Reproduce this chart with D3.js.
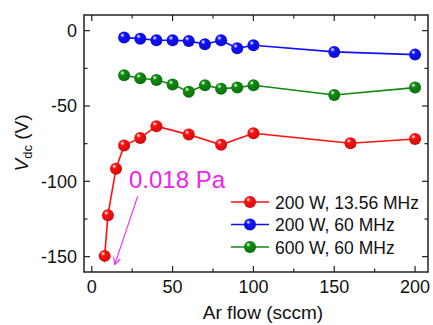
<!DOCTYPE html>
<html><head><meta charset="utf-8">
<script src="https://cdn.jsdelivr.net/npm/d3@7"></script>
<style>
html,body{margin:0;padding:0;background:#fff;}
text{font-family:Arial,"Liberation Sans",sans-serif;}
</style></head>
<body>
<svg id="c" width="433" height="325"></svg>
<script>
// Data
const seriesNames = ["200 W, 13.56 MHz", "200 W, 60 MHz", "600 W, 60 MHz"];
const seriesColors = ["#ff1010", "#1010ff", "#108a10"];
const redX = [8, 10, 15, 20, 30, 40, 60, 80, 100, 160, 200];
const redY = [-149.5, -122.5, -91.6, -76.3, -71.2, -63.4, -69, -75.8, -68.1, -74.7, -71.9];
const blueX = [20, 30, 40, 50, 60, 70, 80, 90, 100, 150, 200];
const blueY = [-4.6, -5.3, -6.4, -6.4, -6.8, -9, -6.4, -11.7, -9.7, -14.1, -15.9];
const greenX = [20, 30, 40, 50, 60, 70, 80, 90, 100, 150, 200];
const greenY = [-29.6, -31.6, -32.7, -35.8, -40.5, -36.2, -38.5, -37.8, -36.2, -42.7, -37.8];
const xTicks = [0, 50, 100, 150, 200];
const yTicks = [0, -50, -100, -150];
const annotationText = "0.018 Pa";

const series = [
  {name: seriesNames[0], color: seriesColors[0], pts: redX.map((x,i)=>[x, redY[i]])},
  {name: seriesNames[1], color: seriesColors[1], pts: blueX.map((x,i)=>[x, blueY[i]])},
  {name: seriesNames[2], color: seriesColors[2], pts: greenX.map((x,i)=>[x, greenY[i]])}
];

const svg = d3.select("#c");
const L = 84, R = 428, T = 15, B = 272;
const x = d3.scaleLinear().domain([-4.8, 208]).range([L, R]);
const y = d3.scaleLinear().domain([-160.2, 10.4]).range([B, T]);

// gradients
const defs = svg.append("defs");
series.forEach((s, i) => {
  const g = defs.append("radialGradient").attr("id", "g" + i)
    .attr("cx", "40%").attr("cy", "35%").attr("r", "65%").attr("fx", "35%").attr("fy", "30%");
  g.append("stop").attr("offset", "0%").attr("stop-color", "#ffffff");
  g.append("stop").attr("offset", "30%").attr("stop-color", s.color);
  g.append("stop").attr("offset", "100%").attr("stop-color", d3.color(s.color).darker(0.6));
});
defs.append("marker").attr("id", "arr").attr("viewBox", "0 0 10 10")
  .attr("refX", 9).attr("refY", 5).attr("markerWidth", 9).attr("markerHeight", 9)
  .attr("orient", "auto").attr("markerUnits", "userSpaceOnUse")
  .append("path").attr("d", "M1,1 L9,5 L1,9").attr("fill", "none")
  .attr("stroke", "#ee22ee").attr("stroke-width", 1.2);

// axes (ticks inward)
const fs = 18;
const xMinor = d3.range(0, 201, 25);
const yMinor = d3.range(-150, 1, 25);
function tickLines(group, vals, pos, len, orient) {
  vals.forEach(v => {
    if (orient === "b") group.append("line").attr("x1", x(v)).attr("x2", x(v)).attr("y1", B).attr("y2", B - len);
    if (orient === "t") group.append("line").attr("x1", x(v)).attr("x2", x(v)).attr("y1", T).attr("y2", T + len);
    if (orient === "l") group.append("line").attr("y1", y(v)).attr("y2", y(v)).attr("x1", L).attr("x2", L + len);
    if (orient === "r") group.append("line").attr("y1", y(v)).attr("y2", y(v)).attr("x1", R).attr("x2", R - len);
  });
}
const tg = svg.append("g").attr("stroke", "#222").attr("stroke-width", 1.2);
tickLines(tg, xTicks, 0, 6, "b"); tickLines(tg, xMinor.filter(v=>!xTicks.includes(v)), 0, 3.5, "b");
tickLines(tg, xTicks, 0, 6, "t"); tickLines(tg, xMinor.filter(v=>!xTicks.includes(v)), 0, 3.5, "t");
tickLines(tg, yTicks, 0, 6, "l"); tickLines(tg, yMinor.filter(v=>!yTicks.includes(v)), 0, 3.5, "l");
tickLines(tg, yTicks, 0, 6, "r"); tickLines(tg, yMinor.filter(v=>!yTicks.includes(v)), 0, 3.5, "r");

svg.append("rect").attr("x", L).attr("y", T).attr("width", R - L).attr("height", B - T)
  .attr("fill", "none").attr("stroke", "#222").attr("stroke-width", 1.5);

svg.append("g").selectAll("text").data(xTicks).join("text")
  .attr("x", d => x(d)).attr("y", 293).attr("text-anchor", "middle")
  .attr("font-size", fs).attr("fill", "#111").text(d => d);
svg.append("g").selectAll("text").data(yTicks).join("text")
  .attr("x", 77).attr("y", d => y(d) + 6.5).attr("text-anchor", "end")
  .attr("font-size", fs).attr("fill", "#111").text(d => d === 0 ? "0" : "-" + Math.abs(d));

// titles
svg.append("text").attr("x", 263).attr("y", 319).attr("text-anchor", "middle")
  .attr("font-size", 19).attr("fill", "#111").text("Ar flow (sccm)");
const yt = svg.append("text").attr("transform", "translate(28,143) rotate(-90)")
  .attr("text-anchor", "middle").attr("font-size", 19).attr("fill", "#111");
yt.append("tspan").attr("font-style", "italic").text("V");
yt.append("tspan").attr("font-size", 13).attr("dy", 4).text("dc");
yt.append("tspan").attr("dy", -4).text(" (V)");

// lines & markers
const line = d3.line().x(d => x(d[0])).y(d => y(d[1]));
series.forEach((s, i) => {
  svg.append("path").datum(s.pts).attr("d", line).attr("fill", "none")
    .attr("stroke", s.color).attr("stroke-width", 1.6);
  svg.append("g").selectAll("circle").data(s.pts).join("circle")
    .attr("cx", d => x(d[0])).attr("cy", d => y(d[1])).attr("r", 6)
    .attr("fill", `url(#g${i})`);
});

// annotation
svg.append("text").attr("x", 129).attr("y", 188).attr("font-size", 24)
  .attr("fill", "#ee22ee").text(annotationText);
svg.append("line").attr("x1", x(28.4)).attr("y1", y(-110)).attr("x2", x(14.2)).attr("y2", y(-155.3))
  .attr("stroke", "#ee22ee").attr("stroke-width", 1.1).attr("marker-end", "url(#arr)");

// legend
const lg = svg.append("g");
series.forEach((s, i) => {
  const yy = 202 + i * 22.5;
  lg.append("line").attr("x1", 231).attr("x2", 269).attr("y1", yy).attr("y2", yy)
    .attr("stroke", s.color).attr("stroke-width", 1.6);
  lg.append("circle").attr("cx", 250).attr("cy", yy).attr("r", 6).attr("fill", `url(#g${i})`);
  lg.append("text").attr("x", 275).attr("y", yy + 6.5).attr("font-size", 17.5)
    .attr("fill", "#111").text(s.name);
});
</script>
</body></html>
